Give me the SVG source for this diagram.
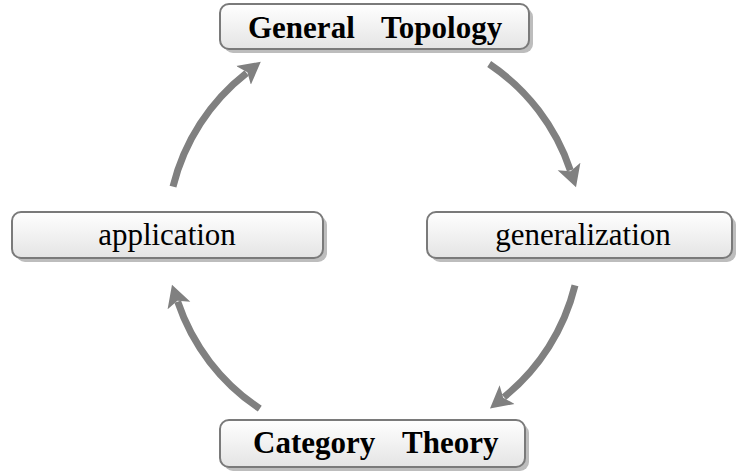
<svg xmlns="http://www.w3.org/2000/svg" width="738" height="475" viewBox="0 0 738 475">
<defs>
<linearGradient id="boxfill" x1="0" y1="0" x2="0" y2="1">
<stop offset="0" stop-color="#ffffff"/>
<stop offset="1" stop-color="#e4e4e4"/>
</linearGradient>
<marker id="head" markerUnits="userSpaceOnUse" markerWidth="26" markerHeight="26" refX="4" refY="0" orient="auto" viewBox="0 -13 26 26">
<path d="M22,0 L0,-12 L5,0 L0,12 Z" fill="#808080"/>
</marker>
</defs>
<style>
.shadow{fill:#bdbdbd;}
.box{fill:url(#boxfill);stroke:#7a7a7a;stroke-width:2;}
text{font-family:'Liberation Serif','Times New Roman',serif;font-size:31px;fill:#000;}
.bold{font-weight:bold;}
.arrow{fill:none;stroke:#808080;stroke-width:7;marker-end:url(#head);}
</style>
<g id="connectors">
<path class="arrow" d="M173.0,186.6 A207,207 0 0 1 246.6,72.9"/>
<path class="arrow" d="M489.2,64.0 A207,207 0 0 1 570.3,170.3"/>
<path class="arrow" d="M575.0,285.4 A207,207 0 0 1 504.0,397.1"/>
<path class="arrow" d="M259.8,408.6 A207,207 0 0 1 177.7,301.7"/>
</g>
<g id="general-topology">
<rect class="shadow" x="224" y="8" width="309" height="45" rx="9"/>
<rect class="box" x="220" y="4" width="309" height="45" rx="9"/>
<text class="bold" y="38"><tspan x="248">General</tspan><tspan x="381">Topology</tspan></text>
</g>
<g id="application">
<rect class="shadow" x="16" y="216" width="311" height="46" rx="9"/>
<rect class="box" x="12" y="212" width="311" height="46" rx="9"/>
<text x="167" y="245" text-anchor="middle">application</text>
</g>
<g id="generalization">
<rect class="shadow" x="431" y="216" width="305" height="46" rx="9"/>
<rect class="box" x="427" y="212" width="305" height="46" rx="9"/>
<text x="583" y="245" text-anchor="middle">generalization</text>
</g>
<g id="category-theory">
<rect class="shadow" x="224" y="424" width="305" height="47" rx="9"/>
<rect class="box" x="220" y="420" width="305" height="47" rx="9"/>
<text class="bold" y="453"><tspan x="253">Category</tspan><tspan x="402">Theory</tspan></text>
</g>
</svg>
